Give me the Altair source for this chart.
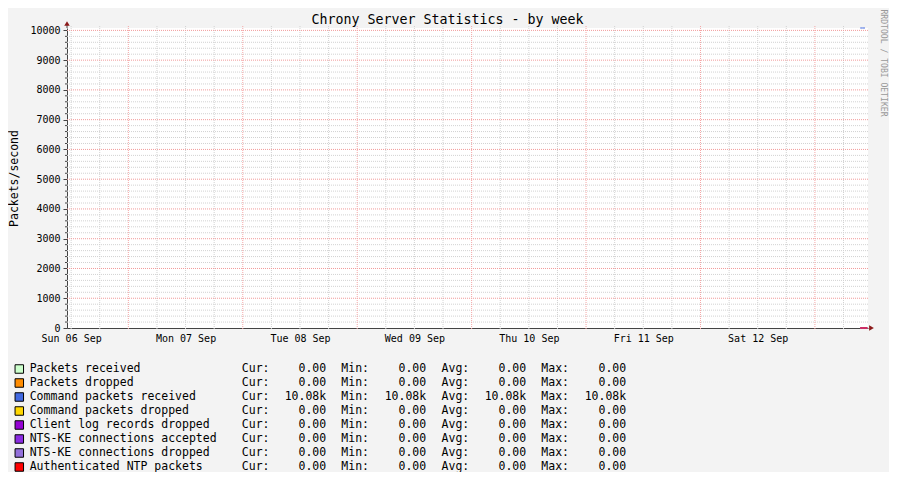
import altair as alt
import pandas as pd

# ---------------- data ----------------
TITLE = "Chrony Server Statistics - by week"
Y_TITLE = "Packets/second"
CREDIT = "RRDTOOL / TOBI OETIKER"

series_names = [
    "Packets received",
    "Packets dropped",
    "Command packets received",
    "Command packets dropped",
    "Client log records dropped",
    "NTS-KE connections accepted",
    "NTS-KE connections dropped",
    "Authenticated NTP packets",
]
series_colors = ["#CCFFCC", "#FF8C00", "#4169E1", "#FFD700",
                 "#9400D3", "#8A2BE2", "#9370DB", "#FF0000"]

cur_vals = [0, 0, 10080, 0, 0, 0, 0, 0]
min_vals = [0, 0, 10080, 0, 0, 0, 0, 0]
avg_vals = [0, 0, 10080, 0, 0, 0, 0, 0]
max_vals = [0, 0, 10080, 0, 0, 0, 0, 0]

sample_times = ["2020-09-13T09:30:00Z", "2020-09-13T10:00:00Z",
                "2020-09-13T10:30:00Z", "2020-09-13T11:00:00Z"]
sample_values = {
    "Packets received": [0, 0, 0, 0],
    "Packets dropped": [0, 0, 0, 0],
    "Command packets received": [10080, 10080, 10080, None],
    "Command packets dropped": [0, 0, 0, 0],
    "Client log records dropped": [0, 0, 0, 0],
    "NTS-KE connections accepted": [0, 0, 0, 0],
    "NTS-KE connections dropped": [0, 0, 0, 0],
    "Authenticated NTP packets": [0, 0, 0, 0],
}

y_ticks = [0, 1000, 2000, 3000, 4000, 5000, 6000, 7000, 8000, 9000, 10000]
y_minor = [v for v in range(200, 10001, 200) if v % 1000 != 0]
y_major = [1000, 2000, 3000, 4000, 5000, 6000, 7000, 8000, 9000, 10000]

day_dates = [6, 7, 8, 9, 10, 11, 12]          # label days (Sun 06 .. Sat 12 Sep)
midnight_dates = [7, 8, 9, 10, 11, 12, 13]     # major vertical grid
minor_times = (["2020-09-06T12:00:00Z", "2020-09-06T18:00:00Z"]
               + [f"2020-09-{d:02d}T{h:02d}:00:00Z" for d in range(7, 13) for h in (6, 12, 18)]
               + ["2020-09-13T06:00:00Z"])
major_times = [f"2020-09-{d:02d}T00:00:00Z" for d in midnight_dates]

# ---------------- frames ----------------
rows = []
for name in series_names:
    for t, v in zip(sample_times, sample_values[name]):
        rows.append({"time": t, "name": name, "value": v})
series_df = pd.DataFrame(rows)

legend_df = pd.DataFrame({
    "row": list(range(len(series_names))),
    "name": series_names,
    "color": series_colors,
    "cur": cur_vals, "min": min_vals, "avg": avg_vals, "max": max_vals,
})

FONT = "DejaVu Sans Mono"
W, H = 801, 300
YMAX = 10080

xscale = alt.Scale(type="utc", nice=False, domain=[
    alt.DateTime(year=2020, month=9, date=6, hours=11, minutes=8, utc=True),
    alt.DateTime(year=2020, month=9, date=13, hours=11, minutes=8, utc=True)])

x_axis = alt.Axis(
    values=[alt.DateTime(year=2020, month=9, date=d, hours=12, utc=True) for d in day_dates],
    format="%a %d %b", labelFont=FONT, labelFontSize=10, labelColor="#000000",
    ticks=False, grid=False, domainColor="#444444", labelPadding=5,
    labelFlush=False, labelOverlap=False, title="")


def yscale():
    return alt.Scale(domain=[0, YMAX], nice=False, zero=True)


one = pd.DataFrame({"k": [0]})

# grid
minor_h = alt.Chart(pd.DataFrame({"v": y_minor})).mark_rule(
    color="#D2D2D2", strokeDash=[1, 1], strokeWidth=1).encode(
    y=alt.Y("v:Q", scale=yscale(), axis=None), x=alt.value(0), x2=alt.value(W))
minor_v = alt.Chart(pd.DataFrame({"time": minor_times})).mark_rule(
    color="#D2D2D2", strokeDash=[1, 1], strokeWidth=1).encode(
    x=alt.X("time:T", scale=xscale, axis=x_axis), y=alt.value(-2), y2=alt.value(H + 2))
major_h = alt.Chart(pd.DataFrame({"v": y_major})).mark_rule(
    color="#F29A9A", strokeDash=[1, 1], strokeWidth=1).encode(
    y=alt.Y("v:Q", scale=yscale(), axis=None), x=alt.value(0), x2=alt.value(W))
major_v = alt.Chart(pd.DataFrame({"time": major_times})).mark_rule(
    color="#F4A6A6", strokeDash=[1, 1], strokeWidth=1).encode(
    x=alt.X("time:T", scale=xscale, axis=x_axis), y=alt.value(-2), y2=alt.value(H + 2))
minor_ticks = alt.Chart(pd.DataFrame({"v": y_minor})).mark_rule(
    color="#444444", strokeWidth=1).encode(
    y=alt.Y("v:Q", scale=yscale(), axis=None), x=alt.value(-2), x2=alt.value(0))

# data lines with the axes
lines = alt.Chart(series_df).mark_line(strokeWidth=1, interpolate="step-after").encode(
    x=alt.X("time:T", scale=xscale, axis=x_axis),
    y=alt.Y("value:Q", scale=yscale(), axis=alt.Axis(
        values=y_ticks, format="d", labelFont=FONT, labelFontSize=10, labelColor="#000000",
        tickSize=4, tickColor="#444444", domainColor="#444444", labelPadding=3,
        grid=False, title=Y_TITLE, titleFont=FONT, titleFontSize=11.5,
        titleFontWeight="normal", titleColor="#000000", titleAngle=270,
        titleX=-52.5, titleY=H / 2, titleAlign="center", titleBaseline="middle")),
    color=alt.Color("name:N", scale=alt.Scale(domain=series_names, range=series_colors),
                    legend=None),
)

# decorations
y_ext = alt.Chart(one).mark_rule(color="#444444").encode(
    x=alt.value(0), y=alt.value(-3), y2=alt.value(0))
arrow_up = alt.Chart(one).mark_point(shape="triangle-up", filled=True, color="#8B1A1A",
                                     size=30, opacity=1).encode(
    x=alt.value(0), y=alt.value(-4.5))
arrow_right = alt.Chart(one).mark_point(shape="triangle-right", filled=True, color="#8B1A1A",
                                        size=30, opacity=1).encode(
    x=alt.value(W + 3.5), y=alt.value(H))
title = alt.Chart(pd.DataFrame({"t": [TITLE]})).mark_text(
    font=FONT, fontSize=13.3, color="#000000", align="center", baseline="middle").encode(
    text="t:N", x=alt.value(380.5), y=alt.value(-8))
credit = alt.Chart(pd.DataFrame({"t": [CREDIT]})).mark_text(
    font=FONT, fontSize=8.1, color="#999999", align="center", baseline="middle",
    angle=90).encode(text="t:N", x=alt.value(815.5), y=alt.value(35))

# legend (rows below the plot)
row_scale = alt.Scale(domain=[0, len(series_names) - 1], range=[341, 439], nice=False, zero=False)
leg_base = alt.Chart(legend_df).transform_calculate(
    cur_s="datum.cur >= 1000 ? format(datum.cur / 1000, '.2f') + 'k' : format(datum.cur, '.2f') + '\u00a0'",
    min_s="datum.min >= 1000 ? format(datum.min / 1000, '.2f') + 'k' : format(datum.min, '.2f') + '\u00a0'",
    avg_s="datum.avg >= 1000 ? format(datum.avg / 1000, '.2f') + 'k' : format(datum.avg, '.2f') + '\u00a0'",
    max_s="datum.max >= 1000 ? format(datum.max / 1000, '.2f') + 'k' : format(datum.max, '.2f') + '\u00a0'",
    cur_l="'Cur:'", min_l="'Min:'", avg_l="'Avg:'", max_l="'Max:'",
)
Y_ROW = alt.Y("row:Q", scale=row_scale, axis=None)

swatch = leg_base.mark_square(size=72, stroke="#000000", strokeWidth=1, opacity=1,
                              filled=True).encode(
    x=alt.value(-47.7), y=Y_ROW, fill=alt.Fill("color:N", scale=None))


def leg_text(field, xpos, align):
    return leg_base.mark_text(font=FONT, fontSize=11.5, color="#000000", align=align,
                              baseline="middle").encode(
        text=f"{field}:N", x=alt.value(xpos), y=Y_ROW)


leg_layers = [
    swatch,
    leg_text("name", -37.3, "left"),
    leg_text("cur_l", 174.8, "left"), leg_text("cur_s", 259.2, "right"),
    leg_text("min_l", 274.3, "left"), leg_text("min_s", 359.2, "right"),
    leg_text("avg_l", 374.6, "left"), leg_text("avg_s", 459.2, "right"),
    leg_text("max_l", 474.3, "left"), leg_text("max_s", 559.2, "right"),
]

chart = alt.layer(
    minor_h, minor_v, major_h, major_v, minor_ticks, lines,
    y_ext, arrow_up, arrow_right, title, credit, *leg_layers,
).resolve_scale(y="independent").properties(
    width=W, height=H,
    background="#F3F3F3",
    padding={"left": 59, "top": 20, "right": 21, "bottom": 144},
    autosize=alt.AutoSizeParams(type="none"),
).configure_view(stroke=None, fill="#FFFFFF")

chart.save("out.html", embed_options={"renderer": "svg", "actions": False})
